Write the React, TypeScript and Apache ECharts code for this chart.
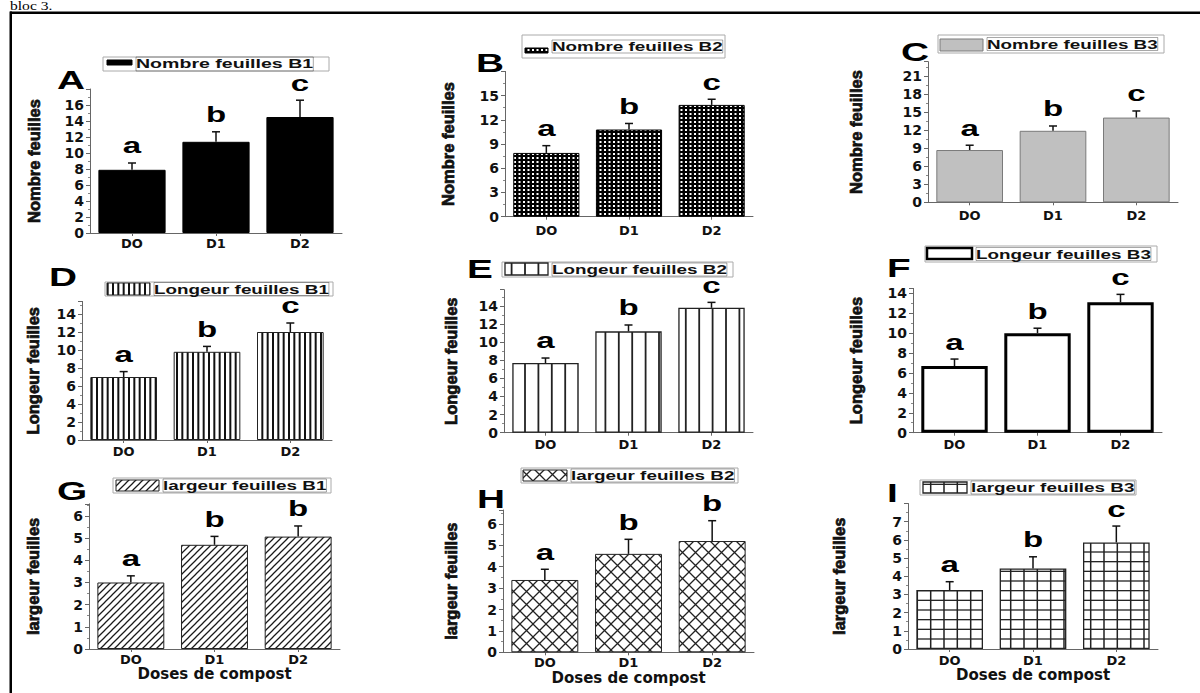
import React, { useEffect, useRef } from 'react';
import * as echarts from 'echarts';

// ---------- DATA ----------
const categories = ['DO', 'D1', 'D2'];

const nombreB1 = [7.9, 11.4, 14.5];
const errNombreB1 = [0.85, 1.25, 2.1];
const lettersNombreB1 = ['a', 'b', 'c'];
const ticksNombreB1 = [0, 2, 4, 6, 8, 10, 12, 14, 16];

const nombreB2 = [7.9, 10.8, 13.85];
const errNombreB2 = [0.9, 0.75, 0.7];
const lettersNombreB2 = ['a', 'b', 'c'];
const ticksNombreB2 = [0, 3, 6, 9, 12, 15];

const nombreB3 = [8.7, 11.9, 14.1];
const errNombreB3 = [0.8, 0.8, 1.1];
const lettersNombreB3 = ['a', 'b', 'c'];
const ticksNombreB3 = [0, 3, 6, 9, 12, 15, 18, 21];

const longeurB1 = [7.0, 9.8, 12.0];
const errLongeurB1 = [0.6, 0.6, 1.0];
const lettersLongeurB1 = ['a', 'b', 'c'];
const ticksLongeurB1 = [0, 2, 4, 6, 8, 10, 12, 14];

const longeurB2 = [7.7, 11.2, 13.8];
const errLongeurB2 = [0.55, 0.7, 0.6];
const lettersLongeurB2 = ['a', 'b', 'c'];
const ticksLongeurB2 = [0, 2, 4, 6, 8, 10, 12, 14];

const longeurB3 = [6.7, 10.0, 13.1];
const errLongeurB3 = [0.7, 0.5, 0.8];
const lettersLongeurB3 = ['a', 'b', 'c'];
const ticksLongeurB3 = [0, 2, 4, 6, 8, 10, 12, 14];

const largeurB1 = [3.0, 4.7, 5.07];
const errLargeurB1 = [0.3, 0.38, 0.48];
const lettersLargeurB1 = ['a', 'b', 'b'];
const ticksLargeurB1 = [0, 1, 2, 3, 4, 5, 6];

const largeurB2 = [3.38, 4.6, 5.2];
const errLargeurB2 = [0.5, 0.68, 0.95];
const lettersLargeurB2 = ['a', 'b', 'b'];
const ticksLargeurB2 = [0, 1, 2, 3, 4, 5, 6];

const largeurB3 = [3.24, 4.43, 5.86];
const errLargeurB3 = [0.46, 0.64, 0.9];
const lettersLargeurB3 = ['a', 'b', 'c'];
const ticksLargeurB3 = [0, 1, 2, 3, 4, 5, 6, 7];

const panels = [
  { tag: 'A', legend: 'Nombre feuilles B1', yTitle: 'Nombre feuilles', values: nombreB1, errors: errNombreB1, letters: lettersNombreB1, ticks: ticksNombreB1, max: 18, interval: 2, fill: 'solid', xTitle: '' },
  { tag: 'B', legend: 'Nombre feuilles B2', yTitle: 'Nombre feuilles', values: nombreB2, errors: errNombreB2, letters: lettersNombreB2, ticks: ticksNombreB2, max: 18, interval: 3, fill: 'dots', xTitle: '' },
  { tag: 'C', legend: 'Nombre feuilles B3', yTitle: 'Nombre feuilles', values: nombreB3, errors: errNombreB3, letters: lettersNombreB3, ticks: ticksNombreB3, max: 23.4, interval: 3, fill: 'gray', xTitle: '' },
  { tag: 'D', legend: 'Longeur feuilles B1', yTitle: 'Longeur feuilles', values: longeurB1, errors: errLongeurB1, letters: lettersLongeurB1, ticks: ticksLongeurB1, max: 15.4, interval: 2, fill: 'vdense', xTitle: '' },
  { tag: 'E', legend: 'Longeur feuilles B2', yTitle: 'Longeur feuilles', values: longeurB2, errors: errLongeurB2, letters: lettersLongeurB2, ticks: ticksLongeurB2, max: 15.8, interval: 2, fill: 'vsparse', xTitle: '' },
  { tag: 'F', legend: 'Longeur feuilles B3', yTitle: 'Longeur feuilles', values: longeurB3, errors: errLongeurB3, letters: lettersLongeurB3, ticks: ticksLongeurB3, max: 14.5, interval: 2, fill: 'white', xTitle: '' },
  { tag: 'G', legend: 'largeur feuilles B1', yTitle: 'largeur feuilles', values: largeurB1, errors: errLargeurB1, letters: lettersLargeurB1, ticks: ticksLargeurB1, max: 6.55, interval: 1, fill: 'hatch', xTitle: 'Doses de compost' },
  { tag: 'H', legend: 'largeur feuilles B2', yTitle: 'largeur feuilles', values: largeurB2, errors: errLargeurB2, letters: lettersLargeurB2, ticks: ticksLargeurB2, max: 6.65, interval: 1, fill: 'cross', xTitle: 'Doses de compost' },
  { tag: 'I', legend: 'largeur feuilles B3', yTitle: 'largeur feuilles', values: largeurB3, errors: errLargeurB3, letters: lettersLargeurB3, ticks: ticksLargeurB3, max: 8, interval: 1, fill: 'grid', xTitle: 'Doses de compost' },
];

// ---------- LAYOUT (pixels) ----------
const layout = [
  { grid: [90, 89, 252, 144], nameGap: 48, catMargin: 4, box: [103, 57, 226, 14], sym: [107, 60, 25, 5], legendSize: 13.5, tagXY: [57, 80] },
  { grid: [505, 71.4, 248, 145.3], nameGap: 49, catMargin: 7, box: [522, 35, 203, 23], sym: [525, 48, 23, 5], legendSize: 13, tagXY: [476, 63] },
  { grid: [928, 61.7, 250, 140.6], nameGap: 64, catMargin: 7, box: [938, 35, 226, 18], sym: [940, 39, 43, 12], legendSize: 13, tagXY: [901, 52] },
  { grid: [82, 301.4, 250, 138.6], nameGap: 41, catMargin: 5, box: [105, 282, 228, 14], sym: [107, 283, 43, 12], legendSize: 13, tagXY: [49, 277] },
  { grid: [504, 289.7, 249, 143], nameGap: 45, catMargin: 5, box: [502, 262, 231, 15], sym: [505, 263, 43, 12], legendSize: 13, tagXY: [467, 269] },
  { grid: [913, 288.4, 249, 144.3], nameGap: 49, catMargin: 5, box: [925, 246, 232, 16], sym: [927, 248, 45, 11], legendSize: 13, tagXY: [887, 268] },
  { grid: [89, 503.8, 251, 145.2], nameGap: 48, catMargin: 4, box: [113, 478, 218, 15], sym: [116, 480, 43, 11], legendSize: 13, tagXY: [57, 491] },
  { grid: [503, 510, 251, 142.3], nameGap: 44, catMargin: 4, box: [521, 468, 217, 15], sym: [523, 470, 44, 11], legendSize: 13, tagXY: [477, 499] },
  { grid: [908, 503.5, 250, 145.5], nameGap: 61, catMargin: 5, box: [920, 480, 216, 15], sym: [923, 482, 44, 11], legendSize: 13, tagXY: [887, 493] },
];

const SANS = '"Liberation Sans", Arial, Helvetica, sans-serif';
const WIDE = '"DejaVu Sans", Verdana, sans-serif';

function canvasPattern(w: number, h: number, draw: (ctx: CanvasRenderingContext2D) => void) {
  const c = document.createElement('canvas');
  c.width = w;
  c.height = h;
  const ctx = c.getContext('2d')!;
  draw(ctx);
  return { image: c, repeat: 'repeat', imageWidth: w, imageHeight: h };
}

function buildFills() {
  const dots = canvasPattern(9, 8, (ctx) => {
    ctx.fillStyle = '#000';
    ctx.fillRect(0, 0, 9, 8);
    ctx.fillStyle = '#fff';
    ctx.fillRect(1, 1, 2, 2);
    ctx.fillRect(5.5, 1, 2, 2);
    ctx.fillRect(1, 5, 2, 2);
    ctx.fillRect(5.5, 5, 2, 2);
  });
  const vdense = canvasPattern(16, 4, (ctx) => {
    ctx.fillStyle = '#fff';
    ctx.fillRect(0, 0, 16, 4);
    ctx.fillStyle = '#111';
    [0, 5.33, 10.67].forEach((x) => ctx.fillRect(x, 0, 2, 4));
  });
  const vsparse = canvasPattern(67, 4, (ctx) => {
    ctx.fillStyle = '#fff';
    ctx.fillRect(0, 0, 67, 4);
    ctx.fillStyle = '#222';
    [2.4, 15.8, 29.2, 42.6, 56.0].forEach((x) => ctx.fillRect(x - 0.9, 0, 1.8, 4));
  });
  const hatch = canvasPattern(7, 7, (ctx) => {
    ctx.fillStyle = '#fff';
    ctx.fillRect(0, 0, 7, 7);
    ctx.strokeStyle = '#1a1a1a';
    ctx.lineWidth = 1.25;
    ctx.beginPath();
    ctx.moveTo(-1, 8); ctx.lineTo(8, -1);
    ctx.moveTo(-1, 1); ctx.lineTo(1, -1);
    ctx.moveTo(6, 8); ctx.lineTo(8, 6);
    ctx.stroke();
  });
  const cross = canvasPattern(13, 13, (ctx) => {
    ctx.fillStyle = '#fff';
    ctx.fillRect(0, 0, 13, 13);
    ctx.strokeStyle = '#222';
    ctx.lineWidth = 1.3;
    ctx.beginPath();
    ctx.moveTo(-1, -1); ctx.lineTo(14, 14);
    ctx.moveTo(-1, 14); ctx.lineTo(14, -1);
    ctx.stroke();
  });
  const grid = canvasPattern(40, 29, (ctx) => {
    ctx.fillStyle = '#fff';
    ctx.fillRect(0, 0, 40, 29);
    ctx.fillStyle = '#222';
    [10.7, 24, 37.3].forEach((x) => ctx.fillRect(x - 0.75, 0, 1.5, 29));
    [1, 10.67, 20.33].forEach((y) => ctx.fillRect(0, y - 0.65, 40, 1.3));
  });
  const styles: Record<string, { color: any; borderColor: string; borderWidth: number }> = {
    solid: { color: '#000', borderColor: '#000', borderWidth: 1 },
    dots: { color: dots, borderColor: '#000', borderWidth: 1 },
    gray: { color: '#c0c0c0', borderColor: '#7a7a7a', borderWidth: 1 },
    vdense: { color: vdense, borderColor: '#222', borderWidth: 1 },
    vsparse: { color: vsparse, borderColor: '#222', borderWidth: 1.3 },
    white: { color: '#fff', borderColor: '#000', borderWidth: 3 },
    hatch: { color: hatch, borderColor: '#222', borderWidth: 1 },
    cross: { color: cross, borderColor: '#222', borderWidth: 1 },
    grid: { color: grid, borderColor: '#222', borderWidth: 1.3 },
  };
  return styles;
}

function buildOption() {
  const fills = buildFills();
  const grids: any[] = [];
  const xAxes: any[] = [];
  const yAxes: any[] = [];
  const series: any[] = [];
  const graphics: any[] = [];

  // frame and caption
  graphics.push({ type: 'rect', shape: { x: 10, y: 11.5, width: 1190, height: 2.5 }, style: { fill: '#000' } });
  graphics.push({ type: 'rect', shape: { x: 9.5, y: 11.5, width: 2.5, height: 690 }, style: { fill: '#000' } });
  graphics.push({
    type: 'text', x: 10, y: 0, scaleX: 1.3,
    style: { text: 'bloc 3.', fill: '#000', fontSize: 12, fontFamily: '"Liberation Serif", "Times New Roman", serif', align: 'left', verticalAlign: 'top', textAlign: 'left', textVerticalAlign: 'top' },
  });

  panels.forEach((p, i) => {
    const L = layout[i];
    const st = fills[p.fill];
    grids.push({ left: L.grid[0], top: L.grid[1], width: L.grid[2], height: L.grid[3], containLabel: false });
    xAxes.push({
      type: 'category', gridIndex: i, data: categories, boundaryGap: true,
      axisLine: { show: true, lineStyle: { color: '#666', width: 1 } },
      axisTick: { show: true, alignWithLabel: true, length: 3, lineStyle: { color: '#666' } },
      axisLabel: { color: '#111', fontFamily: WIDE, fontWeight: 'bold', fontSize: 13, margin: L.catMargin },
      name: p.xTitle, nameLocation: 'middle', nameGap: 17,
      nameTextStyle: { color: '#111', fontFamily: WIDE, fontWeight: 'bold', fontSize: 15 },
    });
    const ticks = p.ticks;
    yAxes.push({
      type: 'value', gridIndex: i, min: 0, max: p.max, interval: p.interval,
      axisLine: { show: true, lineStyle: { color: '#666', width: 1 } },
      axisTick: { show: true, length: 4, lineStyle: { color: '#666' } },
      minorTick: { show: true, splitNumber: 2, length: 2, lineStyle: { color: '#888' } },
      splitLine: { show: false },
      axisLabel: {
        color: '#111', fontFamily: WIDE, fontWeight: 'bold', fontSize: 14, margin: 6,
        formatter: (v: number) => (ticks.indexOf(v) >= 0 ? String(v) : ''),
      },
      name: p.yTitle, nameLocation: 'middle', nameRotate: 90, nameGap: L.nameGap,
      nameTextStyle: { color: '#111', fontFamily: SANS, fontWeight: 'bold', fontSize: 16.5, textBorderColor: '#111', textBorderWidth: 0.7 },
    });
    series.push({
      type: 'bar', xAxisIndex: i, yAxisIndex: i, data: p.values, barWidth: '80%',
      itemStyle: { color: st.color, borderColor: st.borderColor, borderWidth: st.borderWidth },
      silent: true,
    });
    const letters = p.letters;
    series.push({
      type: 'custom', xAxisIndex: i, yAxisIndex: i, z: 5, silent: true,
      data: p.values.map((v, k) => [k, v, p.errors[k]]),
      renderItem: (params: any, api: any) => {
        const k = api.value(0);
        const v = api.value(1);
        const e = api.value(2);
        const base = api.coord([k, v]);
        const top = api.coord([k, v + e]);
        const s = { stroke: '#111', lineWidth: 1.5 };
        return {
          type: 'group',
          children: [
            { type: 'line', shape: { x1: base[0], y1: base[1], x2: top[0], y2: top[1] }, style: s },
            { type: 'line', shape: { x1: top[0] - 4, y1: top[1], x2: top[0] + 4, y2: top[1] }, style: s },
            {
              type: 'text', x: top[0], y: top[1] - 17, scaleX: 1.5,
              style: {
                text: letters[params.dataIndex], fill: '#000', fontSize: 22, fontWeight: 'bold', fontFamily: SANS,
                align: 'center', verticalAlign: 'middle', textAlign: 'center', textVerticalAlign: 'middle',
              },
            },
          ],
        };
      },
    });

    // legend box
    const [bx, by, bw, bh] = L.box;
    const [sx, sy, sw, sh] = L.sym;
    graphics.push({ type: 'rect', shape: { x: bx, y: by, width: bw, height: bh }, style: { fill: '#fff', stroke: '#aaa', lineWidth: 1 } });
    graphics.push({ type: 'rect', shape: { x: sx, y: sy, width: sw, height: sh }, style: { fill: st.color, stroke: st.borderColor, lineWidth: Math.min(st.borderWidth, 2.5) } });
    graphics.push({
      type: 'text', x: sx + sw + 4, y: by + bh / 2, scaleX: 1.45,
      style: {
        text: p.legend, fill: '#111', fontSize: L.legendSize, fontWeight: 'bold', fontFamily: SANS,
        textBorderColor: '#111', textBorderWidth: 0.3,
        align: 'left', verticalAlign: 'middle', textAlign: 'left', textVerticalAlign: 'middle',
      },
    });
    graphics.push({
      type: 'text', x: L.tagXY[0], y: L.tagXY[1], scaleX: 1.55,
      style: {
        text: p.tag, fill: '#000', fontSize: 25, fontWeight: 'bold', fontFamily: SANS,
        align: 'left', verticalAlign: 'middle', textAlign: 'left', textVerticalAlign: 'middle',
      },
    });
  });

  return {
    animation: false,
    backgroundColor: '#fff',
    grid: grids,
    xAxis: xAxes,
    yAxis: yAxes,
    series,
    graphic: { elements: graphics },
  };
}

export default function App() {
  const ref = useRef<HTMLDivElement>(null);
  useEffect(() => {
    document.body.style.margin = '0';
    const chart = echarts.init(ref.current!, null, { renderer: 'svg', width: 1200, height: 693 });
    chart.setOption(buildOption() as any);
    return () => chart.dispose();
  }, []);
  return <div ref={ref} style={{ width: 1200, height: 693, background: '#fff' }} />;
}
